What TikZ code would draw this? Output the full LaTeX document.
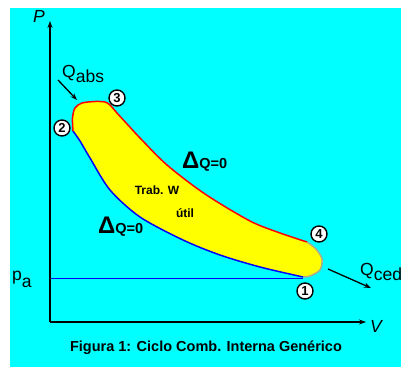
\documentclass[tikz,border=0pt]{standalone}
\usepackage{fontspec}
\setmainfont{Liberation Sans}
\usetikzlibrary{arrows.meta}
\definecolor{bgcyan}{RGB}{0,255,255}
\definecolor{fillyel}{RGB}{255,255,0}
\definecolor{curvered}{RGB}{255,0,0}
\definecolor{curveblue}{RGB}{0,0,255}
\definecolor{rimgray}{RGB}{170,170,140}
\begin{document}
\begin{tikzpicture}[x=1pt,y=-1pt,
  axis/.style={line width=1.3pt,-{Stealth[length=7pt,width=5pt]}},
  qarrow/.style={line width=1.3pt,-{Stealth[length=7pt,width=5pt]}},
  stpt/.style={circle,draw=black,fill=white,line width=1.4pt,minimum size=16pt,inner sep=0pt,font=\bfseries\fontsize{13}{13}\selectfont},
  lbl/.style={inner sep=0pt,font=\fontsize{17.5}{19}\selectfont},
  dq/.style={inner sep=0pt,font=\bfseries\fontsize{14.5}{15}\selectfont},
  trab/.style={inner sep=0pt,font=\bfseries\fontsize{12}{13}\selectfont}]
\useasboundingbox (0,0) rectangle (401,367);
\fill[white] (0,0) rectangle (401,367);
\fill[bgcyan] (10,8) rectangle (401,367);
\clip (0,0) rectangle (401,367);
% yellow region
\def\redpts{(73,131) (72.5,118) (75,108) (82,103) (95,101.5) (105,102) (110,105) (117,113) (128,125) (140,138) (167,165) (205,194) (250,221) (280,233) (307,242)}
\def\graypts{(307,242) (316,249) (322,259) (320,270) (310,276) (303,277)}
\def\bluepts{(303,277) (260,267) (220,255) (183,240) (140,217) (110,190) (90,158) (80,141) (73,131)}
\fill[fillyel] plot[smooth] coordinates {\redpts} -- plot[smooth] coordinates {\graypts} -- plot[smooth] coordinates {\bluepts} -- cycle;
\draw[curvered,line width=1.5pt] plot[smooth] coordinates {\redpts};
\draw[rimgray,line width=1.5pt] plot[smooth] coordinates {\graypts};
\draw[curveblue,line width=1.5pt] plot[smooth] coordinates {\bluepts};
% pa line
\coordinate (pa0) at (50,278.5);
\coordinate (pa1) at (303,278.5);
\draw[curveblue,line width=1.5pt] (pa0) -- (pa1);
% axes
\coordinate (O) at (50,322);
\coordinate (ytop) at (50,21);
\coordinate (xend) at (366,322);
\draw[axis] (O) -- (ytop);
\draw[axis] (O) -- (xend);
\node[lbl,font=\itshape\fontsize{17.5}{19}\selectfont] (P) at (39,16) {P};
\node[lbl,font=\itshape\fontsize{17.5}{19}\selectfont] (V) at (376,326) {V};
\node[lbl,anchor=base west] (pa) at (12,280) {p\raisebox{-7pt}{a}};
% state points
\node[stpt] (s1) at (305,291) {1};
\node[stpt] (s2) at (62,128) {2};
\node[stpt] (s3) at (117,98) {3};
\node[stpt] (s4) at (319,234) {4};
% heat labels
\node[lbl,anchor=base west] (qabs) at (62,77) {Q\raisebox{-5pt}{abs}};
\coordinate (qa0) at (58,80);
\coordinate (qa1) at (77,100);
\draw[qarrow] (qa0) -- (qa1);
\node[lbl,anchor=base west] (qced) at (360,275) {Q\raisebox{-5pt}{ced}};
\coordinate (qc0) at (328,269);
\coordinate (qc1) at (371,288);
\draw[qarrow] (qc0) -- (qc1);
% adiabatic labels
\node[dq,anchor=base west] (dq1) at (182,168) {{\fontsize{24}{24}\selectfont Δ}Q=0};
\node[dq,anchor=base west] (dq2) at (98,233) {{\fontsize{24}{24}\selectfont Δ}Q=0};
\node[trab] (tw) at (157,190) {Trab. W};
\node[trab] (util) at (185,213) {útil};
% caption
\node[inner sep=0pt,font=\bfseries\fontsize{14.5}{16}\selectfont] (cap) at (206,348) {Figura 1: Ciclo Comb. Interna Genérico};
\end{tikzpicture}
\end{document}
